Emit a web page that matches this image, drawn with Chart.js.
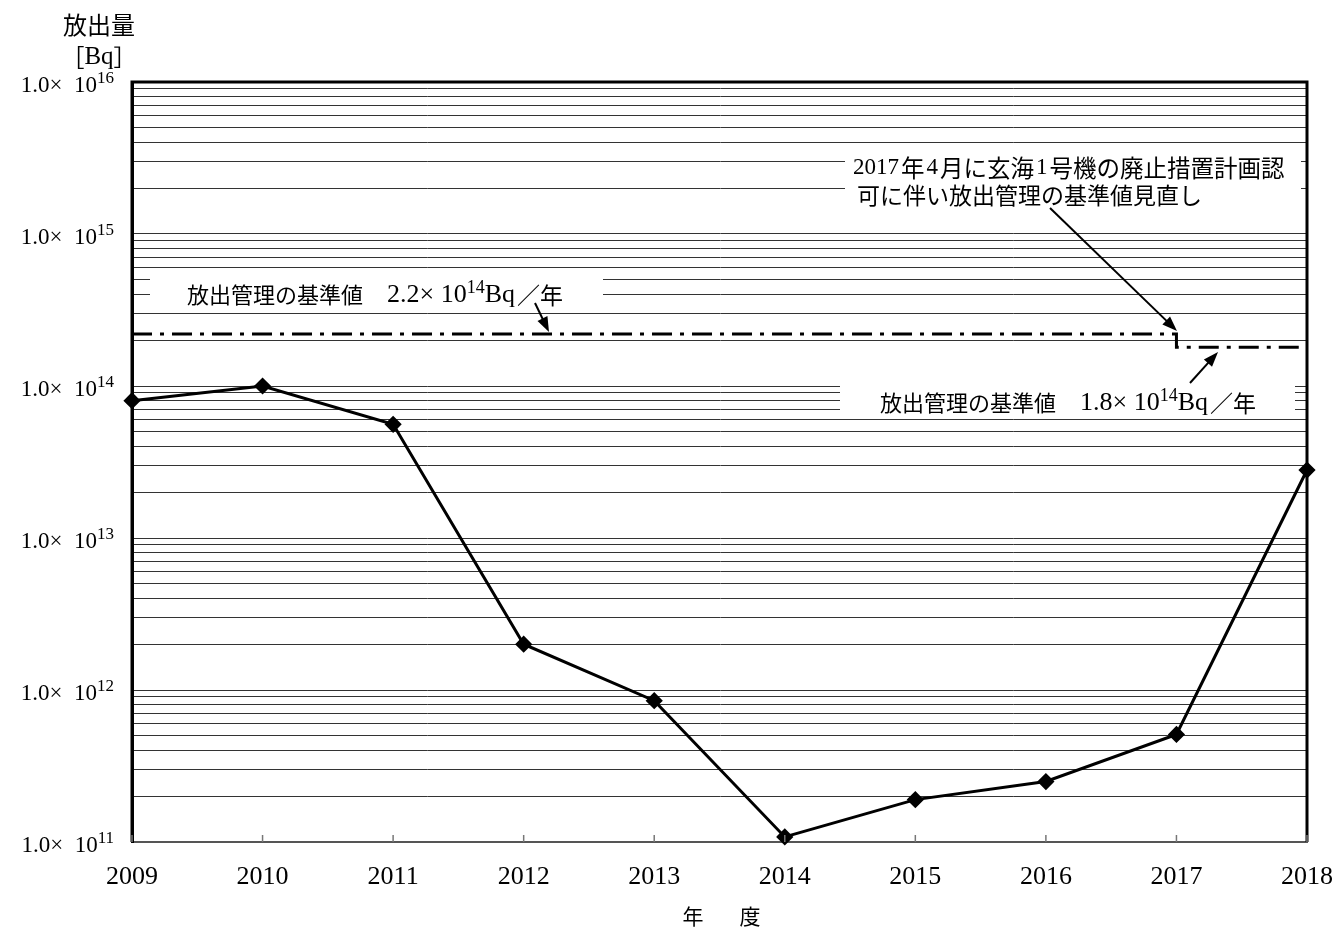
<!DOCTYPE html>
<html lang="ja">
<head>
  <meta charset="UTF-8">
  <title>放出量の推移</title>
  <script src="https://cdn.jsdelivr.net/npm/chart.js@4.4.1/dist/chart.umd.min.js"></script>
  <style>
    * { margin: 0; padding: 0; box-sizing: border-box; }
    body { background: #ffffff; width: 1339px; height: 929px; overflow: hidden; }
    #wrap { width: 1339px; height: 929px; }
  </style>
</head>
<body>
  <div id="wrap"><canvas id="chart" width="1339" height="929"></canvas></div>

  <script>
    // データ（年度別の放出量 [Bq]）
    const years = ['2009', '2010', '2011', '2012', '2013', '2014', '2015', '2016', '2017', '2018'];
    const emissions = [8.0e13, 1.0e14, 5.6e13, 2.0e12, 8.5e11, 1.08e11, 1.9e11, 2.5e11, 5.1e11, 2.8e13];
    // 放出管理の基準値（2017年4月に見直し）
    const limits = [2.2e14, 2.2e14, 2.2e14, 2.2e14, 2.2e14, 2.2e14, 2.2e14, 2.2e14, 2.2e14, 1.8e14];
    const yExponents = [11, 12, 13, 14, 15, 16];

    const SERIF = '"Liberation Serif", "Noto Sans CJK JP", serif';
    const JP = '"Noto Sans CJK JP", sans-serif';

    // 文字列を区切りごとにフォントを変えて左から順に描く
    function drawRuns(ctx, x, y, runs, align) {
      ctx.textBaseline = 'middle';
      ctx.textAlign = 'left';
      let total = 0;
      runs.forEach(r => {
        ctx.font = r.f;
        r.w = ctx.measureText(r.t).width + (r.gap || 0);
        total += r.w;
      });
      let cx = align === 'right' ? x - total : (align === 'center' ? x - total / 2 : x);
      runs.forEach(r => {
        ctx.font = r.f;
        ctx.fillText(r.t, cx, y + (r.dy || 0));
        cx += r.w;
      });
    }

    function arrow(ctx, x1, y1, x2, y2) {
      const a = Math.atan2(y2 - y1, x2 - x1);
      const L = 15, W = 5.5;
      ctx.beginPath();
      ctx.moveTo(x1, y1);
      ctx.lineTo(x2 - Math.cos(a) * L * 0.8, y2 - Math.sin(a) * L * 0.8);
      ctx.lineWidth = 2;
      ctx.strokeStyle = '#000';
      ctx.stroke();
      ctx.beginPath();
      ctx.moveTo(x2, y2);
      ctx.lineTo(x2 - Math.cos(a) * L + Math.sin(a) * W, y2 - Math.sin(a) * L - Math.cos(a) * W);
      ctx.lineTo(x2 - Math.cos(a) * L - Math.sin(a) * W, y2 - Math.sin(a) * L + Math.cos(a) * W);
      ctx.closePath();
      ctx.fillStyle = '#000';
      ctx.fill();
    }

    function limitLabel(value) {
      return [
        { t: '放出管理の基準値', f: '22px ' + JP, gap: 24 },
        { t: value + '× 10', f: '26px ' + SERIF },
        { t: '14', f: '18px ' + SERIF, dy: -7 },
        { t: 'Bq', f: '26px ' + SERIF, gap: 2 },
        { t: '／年', f: '23px ' + JP }
      ];
    }

    const decorations = {
      id: 'decorations',
      beforeDatasetsDraw(chart) {
        // 注記の背景（目盛線を隠す）
        const ctx = chart.ctx;
        ctx.save();
        ctx.fillStyle = '#ffffff';
        ctx.fillRect(150, 272, 453, 33);
        ctx.fillRect(845, 150, 456, 56);
        ctx.fillRect(840, 380, 455, 32);
        ctx.restore();
      },
      afterDraw(chart) {
        const ctx = chart.ctx;
        const a = chart.chartArea;
        const ys = chart.scales.y;
        const xs = chart.scales.x;
        ctx.save();

        // 枠線
        ctx.strokeStyle = '#000';
        ctx.lineWidth = 3;
        ctx.beginPath();
        ctx.moveTo(a.left, a.bottom);
        ctx.lineTo(a.left, a.top);
        ctx.lineTo(a.right, a.top);
        ctx.lineTo(a.right, a.bottom);
        ctx.stroke();

        // x軸の小目盛
        ctx.strokeStyle = '#777';
        ctx.lineWidth = 1.5;
        years.forEach((y, i) => {
          const x = xs.getPixelForValue(i);
          ctx.beginPath();
          ctx.moveTo(x, a.bottom);
          ctx.lineTo(x, a.bottom - 7);
          ctx.stroke();
        });

        // y軸ラベル
        ctx.fillStyle = '#000';
        yExponents.forEach(e => {
          const y = ys.getPixelForValue(Math.pow(10, e));
          drawRuns(ctx, 114, y + 4, [
            { t: '1.0×  10', f: '23px ' + SERIF },
            { t: String(e), f: '17px ' + SERIF, dy: -7 }
          ], 'right');
        });

        // 軸タイトル
        ctx.textAlign = 'center';
        ctx.textBaseline = 'middle';
        ctx.font = '24px ' + JP;
        ctx.fillText('放出量', 99, 25);
        drawRuns(ctx, 99, 57, [
          { t: '［', f: '23px ' + JP },
          { t: 'Bq', f: '25px ' + SERIF },
          { t: '］', f: '23px ' + JP }
        ], 'center');
        ctx.textAlign = 'center';
        ctx.font = '21px ' + JP;
        ctx.fillText('年', 693, 916);
        ctx.fillText('度', 750, 916);

        // 注記
        ctx.fillStyle = '#000';
        drawRuns(ctx, 187, 295, limitLabel('2.2'), 'left');
        drawRuns(ctx, 880, 403, limitLabel('1.8'), 'left');
        drawRuns(ctx, 853, 168, [
          { t: '2017', f: '23px ' + SERIF, gap: 2 },
          { t: '年', f: '23.5px ' + JP, gap: 2 },
          { t: '4', f: '23px ' + SERIF, gap: 2 },
          { t: '月に玄海', f: '23.5px ' + JP, gap: 2 },
          { t: '1', f: '23px ' + SERIF, gap: 2 },
          { t: '号機の廃止措置計画認', f: '23.5px ' + JP }
        ], 'left');
        drawRuns(ctx, 857, 195, [
          { t: '可に伴い放出管理の基準値見直し', f: '23px ' + JP }
        ], 'left');

        arrow(ctx, 535, 303, 549, 332);
        arrow(ctx, 1050, 208, 1177, 331);
        arrow(ctx, 1190, 383, 1218, 352);

        ctx.restore();
      }
    };

    new Chart(document.getElementById('chart'), {
      type: 'line',
      data: {
        labels: years,
        datasets: [
          {
            label: '放出量',
            data: emissions,
            borderColor: '#000',
            backgroundColor: '#000',
            borderWidth: 3,
            pointStyle: 'rectRot',
            pointRadius: 6.5,
            pointBackgroundColor: '#000',
            pointBorderColor: '#000',
            tension: 0,
            clip: false
          },
          {
            label: '放出管理の基準値',
            data: limits,
            borderColor: '#000',
            borderWidth: 3,
            borderDash: [20, 8, 4, 8],
            stepped: 'after',
            pointRadius: 0,
            clip: false
          }
        ]
      },
      options: {
        responsive: false,
        animation: false,
        layout: { padding: { top: 82, right: 32, left: 0, bottom: 0 } },
        plugins: {
          legend: { display: false },
          tooltip: { enabled: false }
        },
        scales: {
          x: {
            offset: false,
            grid: { display: false, drawTicks: false },
            border: { color: '#555', width: 2 },
            ticks: {
              color: '#000',
              font: { family: SERIF, size: 26 },
              padding: 20,
              maxRotation: 0,
              autoSkip: false
            },
            afterFit(scale) {
              scale.height = 87;
              scale.paddingLeft = 0;
              scale.paddingRight = 0;
            }
          },
          y: {
            type: 'logarithmic',
            min: 1e11,
            max: 1e16,
            grid: { color: '#333', lineWidth: 1, drawTicks: false },
            border: { color: '#000', width: 3 },
            ticks: { display: false },
            afterBuildTicks(scale) {
              const t = [];
              for (let e = 11; e < 16; e++) {
                for (let s = 1; s <= 9; s++) t.push({ value: s * Math.pow(10, e) });
              }
              t.push({ value: 1e16 });
              scale.ticks = t;
            },
            afterFit(scale) { scale.width = 132; }
          }
        }
      },
      plugins: [decorations]
    });
  </script>
</body>
</html>
